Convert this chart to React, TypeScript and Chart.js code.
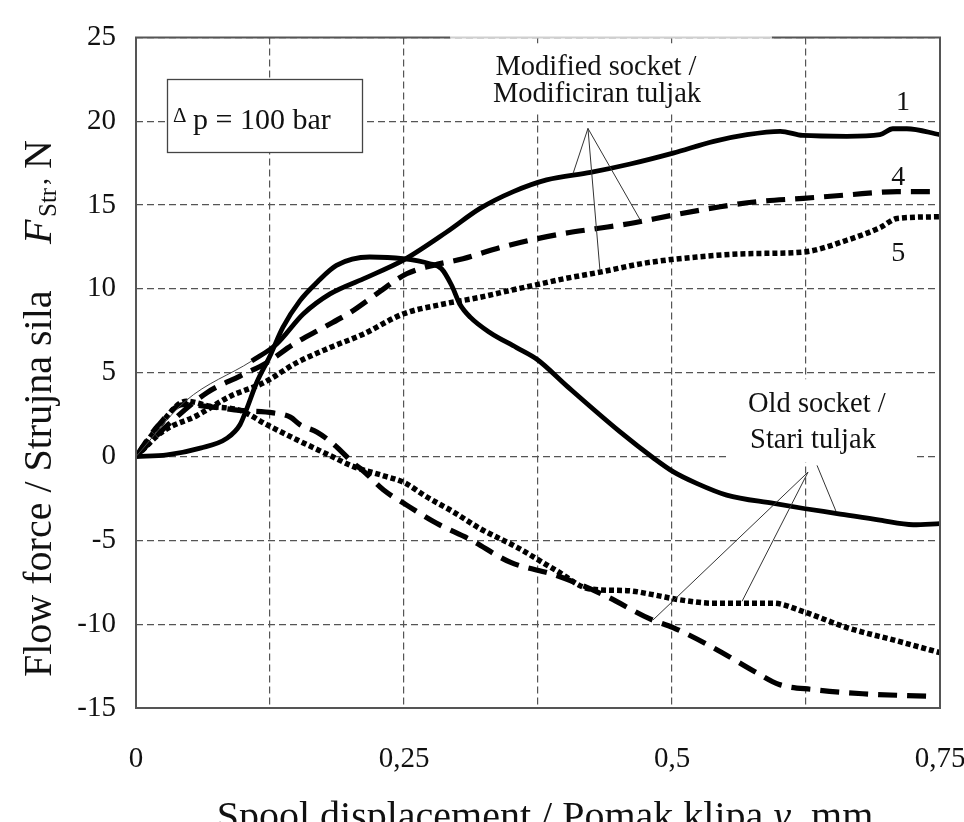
import React, { useEffect, useRef } from 'react';
import { Chart, registerables } from 'chart.js';

Chart.register(...registerables);

const FONT = "'Liberation Serif', 'Times New Roman', Times, serif";

// Axes
const X_MIN = 0;
const X_MAX = 0.75;
const X_STEP = 0.125;
const X_LABELED = [0, 0.25, 0.5, 0.75];
const Y_MIN = -15;
const Y_MAX = 25;
const Y_STEP = 5;

// Modified socket, curve 1 (solid)
const mod1X = [0, 0.046, 0.108, 0.131, 0.156, 0.181, 0.212, 0.249, 0.29, 0.321, 0.352, 0.383, 0.424, 0.461, 0.501, 0.539, 0.57, 0.601, 0.622, 0.663, 0.694, 0.706, 0.719, 0.75];
const mod1Y = [0, 3.3, 5.7, 6.7, 8.5, 9.7, 10.6, 11.7, 13.4, 14.8, 15.8, 16.5, 16.95, 17.45, 18.1, 18.8, 19.2, 19.4, 19.15, 19.1, 19.2, 19.55, 19.55, 19.2];

// Modified socket, curve 4 (dashed)
const mod4X = [0, 0.03, 0.066, 0.097, 0.122, 0.147, 0.175, 0.2, 0.2245, 0.2525, 0.277, 0.305, 0.336, 0.3675, 0.3986, 0.43, 0.461, 0.501, 0.545, 0.579, 0.6225, 0.663, 0.71, 0.75];
const mod4Y = [0, 1.9, 3.8, 4.8, 5.6, 6.7, 7.7, 8.6, 9.7, 10.9, 11.4, 11.8, 12.4, 12.9, 13.3, 13.6, 13.9, 14.4, 14.9, 15.2, 15.4, 15.6, 15.8, 15.8];

// Modified socket, curve 5 (dotted)
const mod5X = [0, 0.025, 0.057, 0.088, 0.119, 0.15, 0.181, 0.212, 0.249, 0.287, 0.321, 0.352, 0.374, 0.399, 0.433, 0.476, 0.523, 0.57, 0.6225, 0.663, 0.694, 0.71, 0.75];
const mod5Y = [0, 1.5, 2.45, 3.6, 4.4, 5.6, 6.5, 7.3, 8.5, 9.1, 9.5, 9.95, 10.25, 10.6, 11.0, 11.55, 11.9, 12.1, 12.2, 12.9, 13.65, 14.2, 14.3];

// Old socket (solid)
const oldSolidX = [0, 0.029, 0.06, 0.085, 0.097, 0.103, 0.1125, 0.125, 0.137, 0.153, 0.169, 0.187, 0.218, 0.249, 0.274, 0.285, 0.2945, 0.302, 0.312, 0.33, 0.355, 0.374, 0.402, 0.451, 0.483, 0.501, 0.523, 0.551, 0.595, 0.623, 0.654, 0.694, 0.725, 0.75];
const oldSolidY = [0, 0.1, 0.5, 1.1, 1.9, 2.8, 4.4, 6.0, 7.7, 9.3, 10.4, 11.4, 11.9, 11.8, 11.5, 11.2, 10.2, 9.1, 8.3, 7.4, 6.5, 5.8, 4.2, 1.5, -0.1, -0.9, -1.6, -2.3, -2.8, -3.1, -3.4, -3.8, -4.07, -4.0];

// Old socket (dashed)
const oldDashX = [0, 0.02, 0.044, 0.072, 0.097, 0.128, 0.144, 0.153, 0.169, 0.184, 0.203, 0.212, 0.231, 0.2525, 0.28, 0.3116, 0.349, 0.3924, 0.436, 0.48, 0.501, 0.5385, 0.579, 0.6, 0.632, 0.678, 0.74];
const oldDashY = [0, 1.8, 3.1, 2.95, 2.75, 2.6, 2.35, 1.9, 1.45, 0.75, -0.4, -0.86, -2.0, -2.9, -3.97, -4.95, -6.3, -7.1, -8.25, -9.7, -10.2, -11.4, -12.9, -13.6, -13.9, -14.15, -14.3];

// Old socket (dotted)
const oldDotX = [0, 0.02, 0.047, 0.069, 0.097, 0.122, 0.15, 0.178, 0.203, 0.231, 0.25, 0.271, 0.296, 0.321, 0.355, 0.392, 0.4235, 0.458, 0.483, 0.5075, 0.5385, 0.5945, 0.6225, 0.663, 0.71, 0.75];
const oldDotY = [0, 1.7, 3.3, 3.0, 2.75, 1.9, 1.0, 0.15, -0.6, -1.15, -1.55, -2.4, -3.3, -4.3, -5.4, -6.8, -7.9, -8.0, -8.25, -8.55, -8.75, -8.75, -9.25, -10.2, -11.0, -11.7];

// Annotation texts
const BOX_DELTA = 'Δ';
const BOX_TEXT = 'p = 100 bar';
const MOD_LINES = ['Modified socket /', 'Modificiran tuljak'];
const OLD_LINES = ['Old socket /', 'Stari tuljak'];
const CURVE_LABELS = ['1', '4', '5'];
const X_TITLE = 'Spool displacement / Pomak klipa y, mm';
const Y_TITLE = 'Flow force / Strujna sila';

const pts = (xs: number[], ys: number[]) => xs.map((x, i) => ({ x, y: ys[i] }));

const SOLID = { borderWidth: 4.8, borderDash: [] as number[] };
const DASHED = { borderWidth: 5.2, borderDash: [19, 10] };
const DOTTED = { borderWidth: 5.5, borderDash: [5, 3] };

const annotations = {
  id: 'annotations',
  beforeDatasetsDraw(chart: any) {
    const { ctx } = chart;
    const xs = chart.scales.x;
    const ys = chart.scales.y;
    const px = (v: number) => xs.getPixelForValue(v);
    const py = (v: number) => ys.getPixelForValue(v);
    ctx.save();
    // white backgrounds behind labels
    ctx.fillStyle = '#ffffff';
    ctx.fillRect(px(0.3265), py(24.65), px(0.5373) - px(0.3265), py(20.56) - py(24.65));
    ctx.fillRect(px(0.5541), py(4.61), px(0.7248) - px(0.5541), py(-0.35) - py(4.61));
    // Δp box
    const bx0 = px(0.0289), bx1 = px(0.2108), by0 = py(22.49), by1 = py(18.11);
    ctx.fillRect(bx0, by0, bx1 - bx0, by1 - by0);
    ctx.strokeStyle = '#444';
    ctx.lineWidth = 1.3;
    ctx.setLineDash([]);
    ctx.strokeRect(Math.round(bx0) + 0.5, Math.round(by0) + 0.5, Math.round(bx1 - bx0), Math.round(by1 - by0));
    ctx.fillStyle = '#111';
    ctx.textBaseline = 'alphabetic';
    ctx.textAlign = 'left';
    ctx.font = `21px ${FONT}`;
    ctx.fillText(BOX_DELTA, px(0.0345), py(19.98));
    ctx.font = `30px ${FONT}`;
    ctx.fillText(BOX_TEXT, px(0.0532), py(19.51));
    // modified socket text
    ctx.font = `28.5px ${FONT}`;
    ctx.textAlign = 'center';
    ctx.fillText(MOD_LINES[0], px(0.4291), py(22.78));
    ctx.fillText(MOD_LINES[1], px(0.43), py(21.14));
    // old socket text
    ctx.textAlign = 'left';
    ctx.fillText(OLD_LINES[0], px(0.5709), py(2.63));
    ctx.fillText(OLD_LINES[1], px(0.5728), py(0.53));
    // curve numbers
    ctx.textAlign = 'center';
    ctx.font = `28px ${FONT}`;
    ctx.fillText(CURVE_LABELS[0], px(0.7155), py(20.68));
    ctx.fillText(CURVE_LABELS[1], px(0.711), py(16.18));
    ctx.fillText(CURVE_LABELS[2], px(0.711), py(11.68));
    ctx.restore();
  },
  afterDatasetsDraw(chart: any) {
    const { ctx, chartArea } = chart;
    const xs = chart.scales.x;
    const ys = chart.scales.y;
    const px = (v: number) => xs.getPixelForValue(v);
    const py = (v: number) => ys.getPixelForValue(v);
    ctx.save();
    ctx.setLineDash([]);
    // leader lines
    ctx.strokeStyle = '#333';
    ctx.lineWidth = 1;
    const seg = (a: number[], b: number[]) => {
      ctx.beginPath();
      ctx.moveTo(px(a[0]), py(a[1]));
      ctx.lineTo(px(b[0]), py(b[1]));
      ctx.stroke();
    };
    const modApex = [0.4216, 19.57];
    seg(modApex, [0.4077, 16.88]);
    seg(modApex, [0.4701, 14.14]);
    seg(modApex, [0.4328, 11.1]);
    seg([0.6353, -0.53], [0.653, -3.27]);
    seg([0.6269, -0.93], [0.5653, -8.64]);
    seg([0.6269, -0.93], [0.4823, -9.75]);
    // frame
    const { left, right, top, bottom } = chartArea;
    ctx.strokeStyle = '#555';
    ctx.lineWidth = 2;
    ctx.beginPath();
    ctx.moveTo(left, top);
    ctx.lineTo(left, bottom);
    ctx.lineTo(right, bottom);
    ctx.lineTo(right, top);
    ctx.stroke();
    const t1 = px(0.293), t2 = px(0.593);
    ctx.beginPath();
    ctx.moveTo(left - 1, top);
    ctx.lineTo(t1, top);
    ctx.moveTo(t2, top);
    ctx.lineTo(right + 1, top);
    ctx.stroke();
    ctx.strokeStyle = '#cfcfcf';
    ctx.beginPath();
    ctx.moveTo(t1, top);
    ctx.lineTo(t2, top);
    ctx.stroke();
    ctx.restore();
  },
  afterDraw(chart: any) {
    const { ctx, chartArea } = chart;
    ctx.save();
    ctx.fillStyle = '#111';
    ctx.textBaseline = 'alphabetic';
    // x title
    ctx.font = `40px ${FONT}`;
    const xt = X_TITLE.split(' y, ');
    const w0 = ctx.measureText(xt[0] + ' ').width;
    ctx.font = `italic 40px ${FONT}`;
    const wy = ctx.measureText('y').width;
    ctx.font = `40px ${FONT}`;
    const w2 = ctx.measureText(', ' + xt[1]).width;
    const total = w0 + wy + w2;
    const cx = (chartArea.left + chartArea.right) / 2 + 7;
    let sx = cx - total / 2;
    const base = chartArea.bottom + 121;
    ctx.textAlign = 'left';
    ctx.fillText(xt[0] + ' ', sx, base);
    sx += w0;
    ctx.font = `italic 40px ${FONT}`;
    ctx.fillText('y', sx, base);
    sx += wy;
    ctx.font = `40px ${FONT}`;
    ctx.fillText(', ' + xt[1], sx, base);
    // y title (rotated)
    ctx.translate(51, 0);
    ctx.rotate(-Math.PI / 2);
    ctx.textAlign = 'left';
    ctx.font = `40px ${FONT}`;
    ctx.fillText(Y_TITLE, -677, 0);
    ctx.font = `italic 40px ${FONT}`;
    ctx.fillText('F', -244, 0);
    ctx.font = `25px ${FONT}`;
    ctx.fillText('Str', -217, 5);
    ctx.font = `28px ${FONT}`;
    ctx.fillText(',', -185, -4);
    ctx.font = `40px ${FONT}`;
    ctx.fillText('N', -169, 0);
    ctx.restore();
  },
};

export default function App() {
  const ref = useRef<HTMLCanvasElement>(null);
  useEffect(() => {
    document.body.style.margin = '0';
    const canvas = ref.current;
    if (!canvas) return;
    const gridCommon = {
      color: '#555',
      lineWidth: 1.2,
      drawTicks: false,
    };
    const chart = new Chart(canvas, {
      type: 'line',
      data: {
        datasets: [
          { data: pts(mod1X, mod1Y), ...SOLID, segment: { borderWidth: (c: any) => (c.p1DataIndex <= 2 ? 1 : 4.8), borderColor: (c: any) => (c.p1DataIndex <= 2 ? '#444' : '#000') } },
          { data: pts(mod4X, mod4Y), ...DASHED },
          { data: pts(mod5X, mod5Y), ...DOTTED },
          { data: pts(oldSolidX, oldSolidY), ...SOLID },
          { data: pts(oldDashX, oldDashY), ...DASHED },
          { data: pts(oldDotX, oldDotY), ...DOTTED },
        ].map((d: any) => ({
          borderColor: '#000',
          pointRadius: 0,
          fill: false,
          cubicInterpolationMode: 'monotone',
          ...d,
        })),
      },
      options: {
        responsive: false,
        maintainAspectRatio: false,
        animation: false,
        devicePixelRatio: 1,
        layout: { padding: { top: 24, right: 24, left: 0, bottom: 0 } },
        plugins: { legend: { display: false }, tooltip: { enabled: false } },
        scales: {
          x: {
            type: 'linear',
            min: X_MIN,
            max: X_MAX,
            grid: gridCommon,
            border: { display: false, dash: [7, 4] },
            ticks: {
              stepSize: X_STEP,
              autoSkip: false,
              maxRotation: 0,
              padding: 34,
              color: '#111',
              font: { family: FONT, size: 29 },
              callback: (v: any) => {
                const n = Math.round(Number(v) * 1000) / 1000;
                return X_LABELED.some((l) => Math.abs(l - n) < 1e-6) ? String(n).replace('.', ',') : '';
              },
            },
            afterFit: (s: any) => {
              s.height = 114;
              s.paddingLeft = 0;
              s.paddingRight = 0;
            },
          },
          y: {
            type: 'linear',
            min: Y_MIN,
            max: Y_MAX,
            grid: gridCommon,
            border: { display: false, dash: [7, 4] },
            ticks: {
              stepSize: Y_STEP,
              padding: 20,
              color: '#111',
              font: { family: FONT, size: 29 },
            },
            afterFit: (s: any) => {
              s.width = 136;
            },
          },
        },
      } as any,
      plugins: [annotations],
    });
    return () => chart.destroy();
  }, []);
  return (
    <div style={{ width: 964, height: 822, background: '#fff', overflow: 'hidden' }}>
      <canvas ref={ref} width={964} height={822} style={{ display: 'block', width: 964, height: 822 }} />
    </div>
  );
}
